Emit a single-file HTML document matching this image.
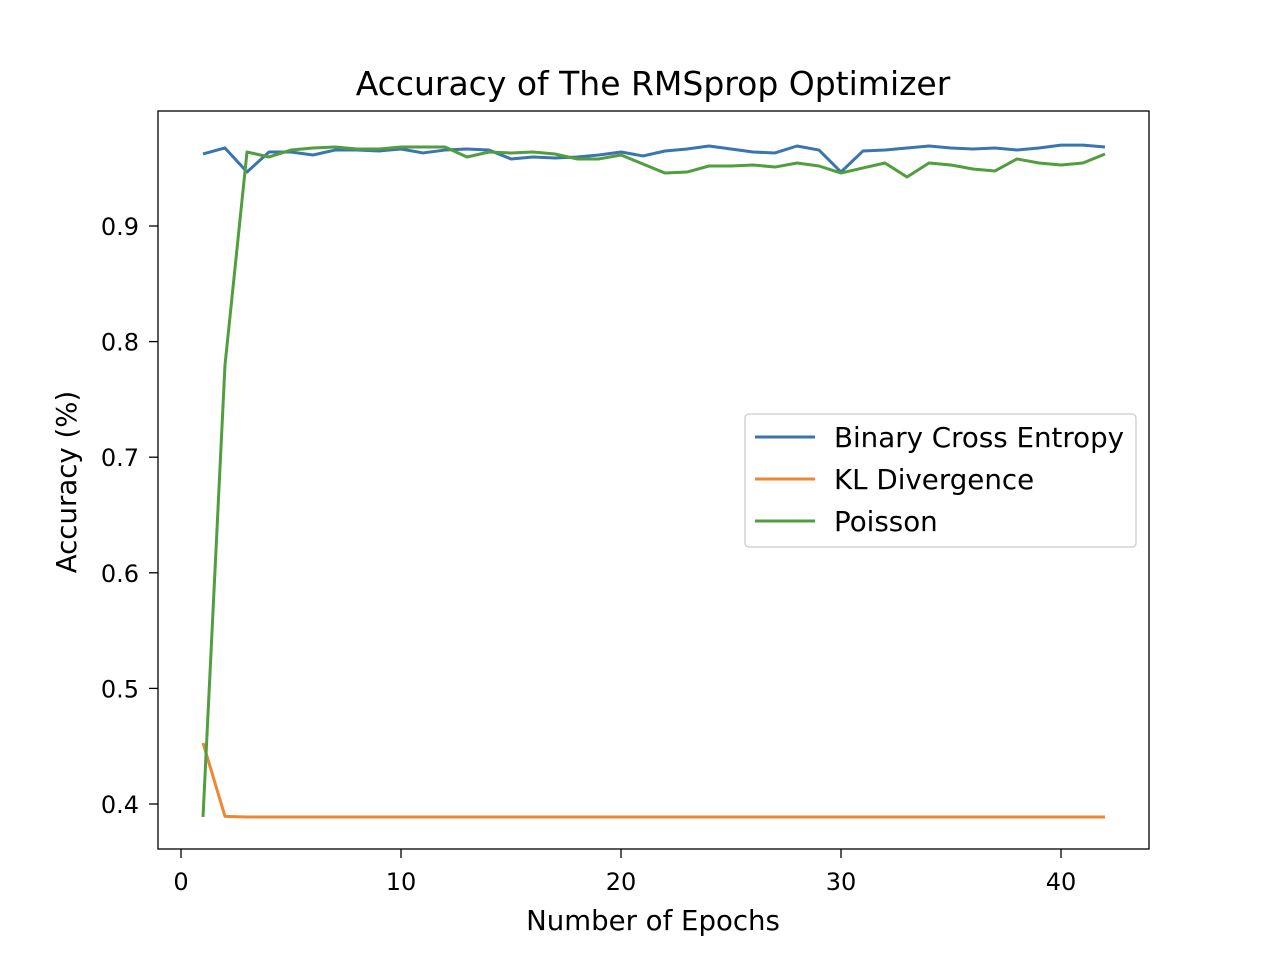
<!DOCTYPE html>
<html><head><meta charset="utf-8"><style>
body{margin:0;background:#fff;}
svg text{font-family:"DejaVu Sans","Liberation Sans",sans-serif;fill:#000;}
</style></head><body>
<svg id="chart" width="1276" height="956">
<rect width="1276" height="956" fill="#fff"/>
<text x="653" y="95" font-size="33" text-anchor="middle">Accuracy of The RMSprop Optimizer</text>
<g id="grid"></g>
<g id="lines"></g>
<rect x="158" y="111" width="991" height="738" fill="none" stroke="#000" stroke-width="1.3"/>
<text x="653" y="930" font-size="27.6" text-anchor="middle">Number of Epochs</text>
<text transform="translate(76,482) rotate(-90)" font-size="27.6" text-anchor="middle">Accuracy (%)</text>
<g>
<rect x="745" y="414" width="391" height="133" rx="4" fill="#fff" stroke="#ccc" stroke-width="1.3"/>
<line x1="755" y1="437" x2="815" y2="437" stroke="#3a75b0" stroke-width="3"/>
<text x="834" y="447" font-size="27.7">Binary Cross Entropy</text>
<line x1="755" y1="479" x2="815" y2="479" stroke="#ef8632" stroke-width="3"/>
<text x="834" y="489" font-size="27.7">KL Divergence</text>
<line x1="755" y1="521" x2="815" y2="521" stroke="#519e3e" stroke-width="3"/>
<text x="834" y="531" font-size="27.7">Poisson</text>
</g>
</svg>
<script>
const epochs=[];for(let i=1;i<=42;i++)epochs.push(i);
const bce=[0.9623,0.9675,0.9467,0.964,0.964,0.9614,0.9657,0.9657,0.9649,0.9666,0.9632,0.9657,0.9666,0.9657,0.958,0.9597,0.9588,0.9597,0.9614,0.964,0.9606,0.9649,0.9666,0.9692,0.9666,0.964,0.9632,0.9692,0.9657,0.9467,0.9649,0.9657,0.9675,0.9692,0.9675,0.9666,0.9675,0.9657,0.9675,0.970,0.970,0.9683];
const kl=[0.4528,0.3893,0.3888,0.3888,0.3888,0.3888,0.3888,0.3888,0.3888,0.3888,0.3888,0.3888,0.3888,0.3888,0.3888,0.3888,0.3888,0.3888,0.3888,0.3888,0.3888,0.3888,0.3888,0.3888,0.3888,0.3888,0.3888,0.3888,0.3888,0.3888,0.3888,0.3888,0.3888,0.3888,0.3888,0.3888,0.3888,0.3888,0.3888,0.3888,0.3888,0.3888];
const poisson=[0.3888,0.7798,0.964,0.9597,0.9657,0.9675,0.9683,0.9666,0.9666,0.9683,0.9683,0.9683,0.9597,0.964,0.9632,0.964,0.9623,0.958,0.958,0.9614,0.9536,0.9458,0.9467,0.9519,0.9519,0.9528,0.951,0.9545,0.9519,0.9458,0.9502,0.9545,0.9424,0.9545,0.9528,0.9493,0.9476,0.958,0.9545,0.9528,0.9545,0.9623];
const xTicks=[0,10,20,30,40];
const yTicks=[0.4,0.5,0.6,0.7,0.8,0.9];
const X=v=>181+22*v;
const Y=v=>226-(v-0.9)*1156;
const NS="http://www.w3.org/2000/svg";
const g=document.getElementById('grid');
xTicks.forEach(t=>{
 const l=document.createElementNS(NS,'line');
 l.setAttribute('x1',X(t));l.setAttribute('x2',X(t));l.setAttribute('y1',849);l.setAttribute('y2',858);l.setAttribute('stroke','#000');l.setAttribute('stroke-width','1.3');
 
 
 g.appendChild(l);
 const tx=document.createElementNS(NS,'text');
 tx.setAttribute('x',X(t));tx.setAttribute('y',890);tx.setAttribute('font-size','24');tx.setAttribute('text-anchor','middle');tx.textContent=t;
 
 
 g.appendChild(tx);
});
yTicks.forEach(t=>{
 const l=document.createElementNS(NS,'line');
 l.setAttribute('x1',149);l.setAttribute('x2',158);l.setAttribute('y1',Y(t));l.setAttribute('y2',Y(t));l.setAttribute('stroke','#000');l.setAttribute('stroke-width','1.3');
 
 
 g.appendChild(l);
 const tx=document.createElementNS(NS,'text');
 tx.setAttribute('x',139);tx.setAttribute('y',Y(t)+9);tx.setAttribute('font-size','24');tx.setAttribute('text-anchor','end');tx.textContent=t.toFixed(1);
 
 
 g.appendChild(tx);
});
const lg=document.getElementById('lines');
[[bce,'#3a75b0','line-bce'],[kl,'#ef8632','line-kl'],[poisson,'#519e3e','line-poisson']].forEach(([d,c,n])=>{
 const p=document.createElementNS(NS,'polyline');
 p.setAttribute('points',d.map((v,i)=>X(epochs[i])+','+Y(v)).join(' '));
 p.setAttribute('fill','none');p.setAttribute('stroke',c);p.setAttribute('stroke-width','3');p.setAttribute('stroke-linejoin','round');
 
 
 lg.appendChild(p);
});
</script>
</body></html>
